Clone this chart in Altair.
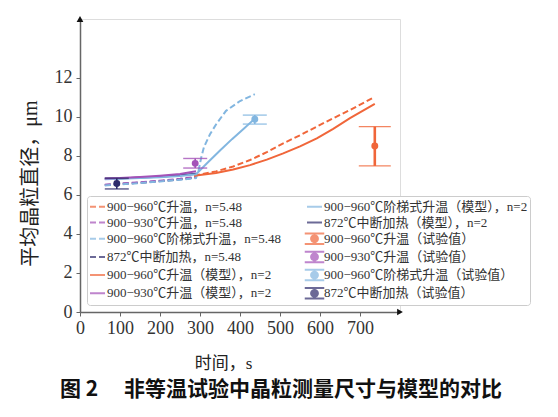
import altair as alt
import pandas as pd

# ---------------- data ----------------
SERIES = [
    "900−960℃升温，n=5.48",
    "900−930℃升温，n=5.48",
    "900−960℃阶梯式升温，n=5.48",
    "872℃中断加热，n=5.48",
    "900−960℃升温（模型），n=2",
    "900−930℃升温（模型），n=2",
    "900−960℃阶梯式升温（模型），n=2",
    "872℃中断加热（模型），n=2",
    "900−960℃升温（试验值）",
    "900−930℃升温（试验值）",
    "900−960℃阶梯式升温（试验值）",
    "872℃中断加热（试验值）",
]
BASE_COLORS = ["#F0663A", "#A452B8", "#82B6E0", "#2E2C6C"]

# dashed model curves (n=5.48)
t_d1 = [285, 340, 383, 425, 467, 508, 550, 592, 633, 675, 733]
y_d1 = [6.98, 7.2, 7.45, 7.78, 8.18, 8.63, 9.05, 9.49, 9.92, 10.34, 10.97]
t_d2 = [62, 100, 150, 200, 250, 290]
y_d2 = [6.52, 6.57, 6.64, 6.72, 6.82, 6.92]
t_d3 = [62, 100, 150, 200, 250, 290, 296, 303, 310, 325, 340, 365, 400, 437]
y_d3 = [6.48, 6.53, 6.6, 6.68, 6.77, 6.86, 7.2, 7.9, 8.45, 9.1, 9.6, 10.3, 10.8, 11.15]
t_d4 = [62, 100, 150, 200, 250, 290]
y_d4 = [6.5, 6.55, 6.62, 6.7, 6.79, 6.88]

# solid model curves (n=2)
t_s1 = [285, 340, 383, 425, 467, 508, 550, 592, 633, 675, 737]
y_s1 = [6.98, 7.12, 7.3, 7.52, 7.8, 8.12, 8.48, 8.89, 9.38, 9.92, 10.65]
t_s2 = [62, 100, 150, 200, 250, 290]
y_s2 = [6.84, 6.86, 6.91, 6.98, 7.07, 7.2]
t_s3 = [62, 100, 150, 200, 250, 290, 320, 350, 380, 410, 437]
y_s3 = [6.8, 6.82, 6.86, 6.9, 6.96, 7.05, 7.67, 8.27, 8.85, 9.4, 9.9]
t_s4 = [62, 100, 150, 200, 250, 290]
y_s4 = [6.82, 6.84, 6.88, 6.93, 7.0, 7.08]

# measured values
t_exp = [737, 288, 437, 92]
y_exp = [8.5, 7.61, 9.87, 6.58]
y_lo = [7.48, 7.37, 9.62, 6.3]
y_hi = [9.49, 7.86, 10.08, 6.85]

X_MAX = 800
Y_MAX = 15
X_TICKS = [0, 100, 200, 300, 400, 500, 600, 700]
Y_TICKS = [0, 2, 4, 6, 8, 10, 12]

# ---------------- tables ----------------
def curve_table(sets, names):
    rows = []
    for name, (ts, ys) in zip(names, sets):
        for t, y in zip(ts, ys):
            rows.append({"series": name, "t": t, "y": y})
    return pd.DataFrame(rows)

# drawing order: navy first (bottom), then the others
dashed_df = curve_table(
    [(t_d4, y_d4), (t_d1, y_d1), (t_d2, y_d2), (t_d3, y_d3)],
    [SERIES[3], SERIES[0], SERIES[1], SERIES[2]])
solid_df = curve_table(
    [(t_s4, y_s4), (t_s1, y_s1), (t_s3, y_s3), (t_s2, y_s2)],
    [SERIES[7], SERIES[4], SERIES[6], SERIES[5]])
exp_df = pd.DataFrame({"series": SERIES[8:], "t": t_exp, "y": y_exp,
                       "lo": y_lo, "hi": y_hi})
legend_df = pd.DataFrame({"series": SERIES, "t": [0] * 12, "y": [0] * 12})
arrow_up_df = pd.DataFrame({"t": [0], "y": [Y_MAX]})
arrow_right_df = pd.DataFrame({"t": [X_MAX], "y": [0]})

colors12 = BASE_COLORS * 3
dash12 = [[6, 3]] * 4 + [[1, 0]] * 8
LINE_PATH = "M-1,0H1"
ERR_PATH = ("M-1.3,-0.7H1.3M-1.3,0.7H1.3M0,-0.7V0.7"
            "M-0.45,0A0.45,0.45,0,1,0,0.45,0A0.45,0.45,0,1,0,-0.45,0Z")
shape12 = [LINE_PATH] * 8 + [ERR_PATH] * 4

SERIF = "Liberation Serif, Noto Sans CJK SC"
LABEL_COLOR = "#333333"
AXIS_COLOR = "#666666"

x_enc = alt.X("t:Q", scale=alt.Scale(domain=[0, X_MAX], nice=False),
              axis=alt.Axis(values=X_TICKS, grid=False, title="时间，s",
                            titleFont=SERIF, titleFontSize=17,
                            titleFontWeight="normal", titleColor="#222",
                            titleX=143, titleY=51, titleBaseline="middle",
                            labelFont="Liberation Serif", labelFontSize=18,
                            labelColor=LABEL_COLOR, labelPadding=3,
                            labelFlush=False, labelOverlap=False,
                            tickSize=4, tickColor=AXIS_COLOR,
                            domainColor=AXIS_COLOR, domainWidth=1.5))
y_enc = alt.Y("y:Q", scale=alt.Scale(domain=[0, Y_MAX], nice=False),
              axis=alt.Axis(values=Y_TICKS, grid=False, title="平均晶粒直径，μm",
                            titleFont=SERIF, titleFontSize=20,
                            titleFontWeight="normal", titleColor="#222",
                            titleAngle=270, titleX=-50, titleY=164,
                            titleBaseline="middle", titleAlign="center",
                            labelFont="Liberation Serif", labelFontSize=18,
                            labelColor=LABEL_COLOR, labelPadding=4,
                            labelFlush=False, labelOverlap=False,
                            tickSize=4, tickColor=AXIS_COLOR,
                            domainColor=AXIS_COLOR, domainWidth=1.5))
# colour scale of the drawn marks (domain listed in reverse so that it is a
# separate scale from the legend's fill/stroke scales)
color_enc = alt.Color("series:N",
                      scale=alt.Scale(domain=SERIES[::-1], range=colors12[::-1]),
                      legend=None)

dashed = alt.Chart(dashed_df).mark_line(strokeWidth=2, strokeDash=[6, 3]).encode(
    x=x_enc, y=y_enc, color=color_enc, detail="series:N")
solid = alt.Chart(solid_df).mark_line(strokeWidth=2).encode(
    x=x_enc, y=y_enc, color=color_enc, detail="series:N")

bars_thin = alt.Chart(exp_df).transform_filter(
    alt.datum.series != SERIES[8]).mark_rule(strokeWidth=1.6).encode(
    x=x_enc, y=alt.Y("lo:Q"), y2="hi:Q", color=color_enc)
bars_thick = alt.Chart(exp_df).transform_filter(
    alt.datum.series == SERIES[8]).mark_rule(strokeWidth=2.6).encode(
    x=x_enc, y=alt.Y("lo:Q"), y2="hi:Q", color=color_enc)
caps = []
for fld in ["lo", "hi"]:
    caps.append(alt.Chart(exp_df).transform_filter(
        alt.datum.series != SERIES[8]).mark_tick(
        orient="horizontal", thickness=1.4, size=24, opacity=0.8).encode(
        x=x_enc, y=alt.Y(f"{fld}:Q"), color=color_enc))
    caps.append(alt.Chart(exp_df).transform_filter(
        alt.datum.series == SERIES[8]).mark_tick(
        orient="horizontal", thickness=1.4, size=32, opacity=0.8).encode(
        x=x_enc, y=alt.Y(f"{fld}:Q"), color=color_enc))
points = alt.Chart(exp_df).mark_point(filled=True, size=48, opacity=1).encode(
    x=x_enc, y=y_enc, color=color_enc)

arrow_up = alt.Chart(arrow_up_df).mark_point(
    filled=True, size=45, color="#111", opacity=1, shape="triangle-up").encode(
    x=x_enc, y=y_enc)
arrow_right = alt.Chart(arrow_right_df).mark_point(
    filled=True, size=45, color="#111", opacity=1, shape="triangle-right").encode(
    x=x_enc, y=y_enc)

leg = alt.Legend(title=None, orient="none", legendX=7, legendY=177,
                 columns=2, direction="vertical", padding=2,
                 strokeColor="#cccccc", fillColor="white", cornerRadius=3,
                 labelFont=SERIF, labelFontSize=13, labelColor=LABEL_COLOR,
                 labelLimit=400, labelOffset=1, symbolSize=225,
                 symbolStrokeWidth=2, symbolFillColor="white",
                 rowPadding=-0.8, columnPadding=19)
legend_layer = alt.Chart(legend_df).transform_filter("false").mark_point(
    filled=True).encode(
    x=x_enc, y=y_enc,
    fill=alt.Fill("series:N", scale=alt.Scale(domain=SERIES, range=colors12), legend=leg),
    stroke=alt.Stroke("series:N", scale=alt.Scale(domain=SERIES, range=colors12), legend=leg),
    shape=alt.Shape("series:N", scale=alt.Scale(domain=SERIES, range=shape12), legend=leg),
    strokeDash=alt.StrokeDash("series:N", scale=alt.Scale(domain=SERIES, range=dash12), legend=leg),
)

chart = alt.layer(
    dashed, solid, bars_thin, bars_thick, *caps, points, arrow_up, arrow_right,
    legend_layer
).properties(
    width=320, height=293,
    autosize=alt.AutoSizeParams(type="none"),
    padding={"left": 72, "top": 11, "right": 150, "bottom": 97},
    title=alt.TitleParams(
        "图 2　  非等温试验中晶粒测量尺寸与模型的对比", orient="bottom",
        anchor="start", frame="group", dx=-20, offset=8,
        font="Noto Sans CJK SC", fontSize=21, fontWeight="bold", color="#111"),
).configure_view(stroke=None).configure(background="white")

chart.save("out.html", embed_options={"renderer": "svg", "actions": False})
